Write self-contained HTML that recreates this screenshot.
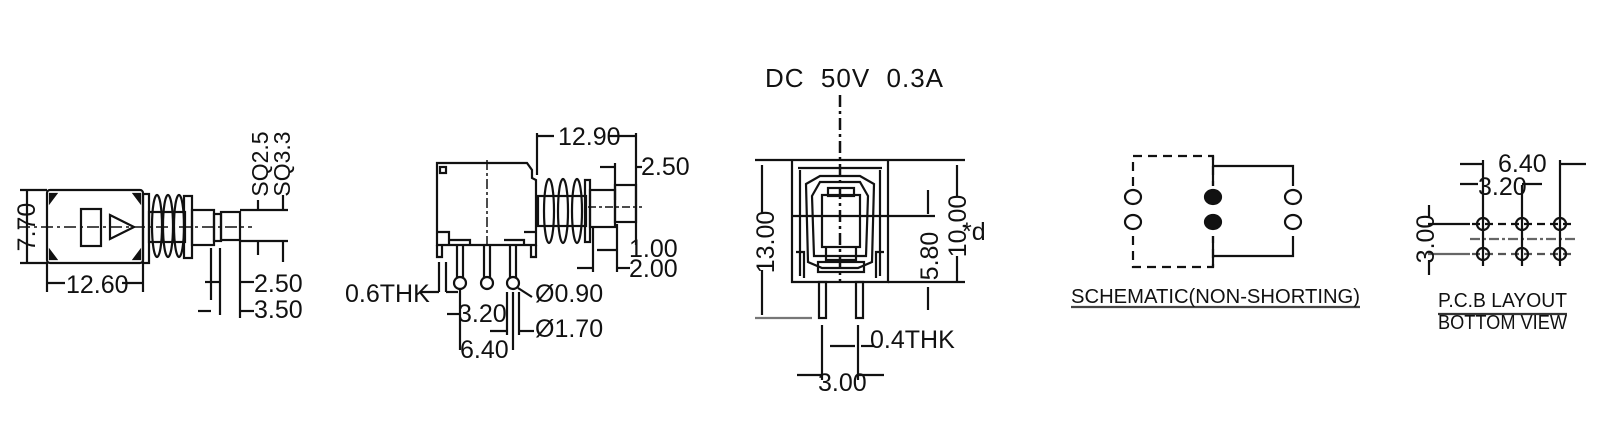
<!DOCTYPE html>
<html><head><meta charset="utf-8"><style>
html,body{margin:0;padding:0;background:#fff;}
svg{display:block;}
text{font-family:"Liberation Sans",sans-serif;fill:#111;}
</style></head><body>
<svg width="1606" height="437" viewBox="0 0 1606 437" xmlns="http://www.w3.org/2000/svg">
<g stroke="#111" stroke-width="2.2" fill="none">
<!-- ===== Section 1 ===== -->
<line x1="18" y1="227" x2="252" y2="227" stroke-dasharray="12,4,3,4" stroke-width="1.5"/>
<rect x="47" y="190" width="96" height="73" rx="3"/>
<path d="M50 194 l6 0 l-6 8 z M140 194 l-6 0 l6 8 z M50 259 l6 0 l-6 -8z M140 259 l-6 0 l6 -8z" fill="#111"/>
<rect x="81" y="209" width="20" height="37"/>
<path d="M110 215 L134 227 L110 239 Z"/>
<rect x="143" y="194" width="6" height="69"/>
<ellipse cx="157" cy="226" rx="5" ry="31"/>
<ellipse cx="168" cy="226" rx="5" ry="31"/>
<ellipse cx="179" cy="226" rx="5" ry="31"/>
<rect x="149" y="212" width="36" height="30"/>
<rect x="184" y="196" width="8" height="62"/>
<rect x="192" y="210" width="22" height="35"/>
<rect x="214" y="214" width="7" height="27"/>
<rect x="221" y="212" width="19" height="28"/>
<line x1="27" y1="190" x2="27" y2="263"/>
<line x1="20" y1="190" x2="47" y2="190"/><line x1="20" y1="263" x2="47" y2="263"/>
<line x1="47" y1="263" x2="47" y2="292"/><line x1="143" y1="263" x2="143" y2="292"/>
<line x1="47" y1="283" x2="65" y2="283"/><line x1="122" y1="283" x2="143" y2="283"/>
<line x1="240" y1="210" x2="288" y2="210"/><line x1="240" y1="241" x2="288" y2="241"/>
<line x1="258" y1="200" x2="258" y2="210"/><line x1="258" y1="241" x2="258" y2="255"/>
<line x1="283" y1="195" x2="283" y2="210"/><line x1="283" y1="241" x2="283" y2="262"/>
<line x1="211" y1="248" x2="211" y2="300"/><line x1="220" y1="248" x2="220" y2="315"/><line x1="240" y1="240" x2="240" y2="318"/>
<line x1="205" y1="282" x2="220" y2="282"/><line x1="240" y1="282" x2="254" y2="282"/>
<line x1="198" y1="311" x2="211" y2="311"/><line x1="240" y1="311" x2="254" y2="311"/>

<!-- ===== Section 2 ===== -->
<path d="M437 163 L527 163 L532 170 L532 178 L536 180 L536 245 L437 245 Z"/>
<rect x="440" y="167" width="6" height="6"/>
<line x1="487" y1="160" x2="487" y2="248" stroke-dasharray="10,3,3,3" stroke-width="1.5"/>
<path d="M437 232 L449 232 L449 245 M524 232 L536 232 M449 245 L449 240 L470 240 L470 245 M504 240 L524 240 L524 245"/>
<path d="M437 245 L437 257 L442 257 L442 245 M531 245 L531 257 L536 257 L536 245"/>
<line x1="457" y1="245" x2="457" y2="278"/><line x1="463" y1="245" x2="463" y2="278"/>
<line x1="484" y1="245" x2="484" y2="278"/><line x1="490" y1="245" x2="490" y2="278"/>
<line x1="510" y1="245" x2="510" y2="278"/><line x1="516" y1="245" x2="516" y2="278"/>
<circle cx="460" cy="283" r="6"/><circle cx="487" cy="283" r="6"/><circle cx="513" cy="283" r="6"/>
<ellipse cx="549" cy="211" rx="5" ry="32"/><ellipse cx="563" cy="211" rx="5" ry="32"/><ellipse cx="577" cy="211" rx="5" ry="32"/>
<rect x="538" y="196" width="48" height="30"/>
<rect x="585" y="180" width="5" height="62"/>
<rect x="590" y="190" width="25" height="37"/>
<rect x="615" y="185" width="21" height="37"/>
<line x1="588" y1="207" x2="642" y2="207" stroke-dasharray="8,3,3,3" stroke-width="1.5"/>
<line x1="537" y1="133" x2="537" y2="175"/><line x1="636" y1="133" x2="636" y2="245"/>
<line x1="537" y1="136" x2="554" y2="136"/><line x1="608" y1="136" x2="636" y2="136"/>
<line x1="615" y1="163" x2="615" y2="200"/><line x1="600" y1="167" x2="615" y2="167"/><line x1="636" y1="167" x2="642" y2="167"/>
<line x1="593" y1="228" x2="593" y2="272"/><line x1="617" y1="224" x2="617" y2="272"/>
<line x1="597" y1="250" x2="617" y2="250"/>
<line x1="577" y1="268" x2="593" y2="268"/><line x1="617" y1="268" x2="630" y2="268"/>
<line x1="439" y1="262" x2="439" y2="292"/><line x1="446" y1="262" x2="446" y2="292"/>
<line x1="420" y1="292" x2="439" y2="292"/><line x1="446" y1="292" x2="458" y2="292"/>
<line x1="460" y1="288" x2="460" y2="350"/><line x1="513" y1="292" x2="513" y2="350"/><line x1="507" y1="292" x2="507" y2="335"/><line x1="519" y1="292" x2="519" y2="335"/>
<line x1="447" y1="314" x2="460" y2="314"/><line x1="490" y1="331" x2="507" y2="331"/><line x1="519" y1="331" x2="534" y2="331"/>
<line x1="518" y1="288" x2="532" y2="297"/>

<!-- ===== Section 3 ===== -->
<line x1="840" y1="95" x2="840" y2="282" stroke-dasharray="12,4,3,4" stroke-width="2.5"/>
<line x1="755" y1="160" x2="965" y2="160"/>
<path d="M792 160 L792 282 L888 282 L888 160"/>
<path d="M798 168 L882 168 M800 170 L800 276 M880 170 L880 276"/>
<path d="M806 184 L820 176 L860 176 L874 184 L872 262 L858 268 L822 268 L808 262 Z"/>
<path d="M812 196 L820 182 L860 182 L868 196 L866 256 L814 256 Z"/>
<rect x="822" y="195" width="38" height="52"/>
<rect x="828" y="188" width="26" height="8"/>
<path d="M826 247 L826 260 L856 260 L856 247"/>
<rect x="818" y="262" width="46" height="10"/>
<path d="M796 252 L804 252 L804 278 M884 252 L876 252 L876 278"/>
<line x1="792" y1="216" x2="935" y2="216"/>
<rect x="819" y="282" width="7" height="36"/><rect x="856" y="282" width="7" height="36"/>
<line x1="755" y1="318" x2="812" y2="318" stroke="#777"/>
<line x1="762" y1="165" x2="762" y2="214"/><line x1="762" y1="270" x2="762" y2="315"/>
<line x1="957" y1="165" x2="957" y2="196"/><line x1="957" y1="256" x2="957" y2="282"/>
<line x1="888" y1="282" x2="965" y2="282"/>
<line x1="928" y1="190" x2="928" y2="214"/><line x1="928" y1="287" x2="928" y2="310"/>
<line x1="822" y1="325" x2="822" y2="380"/><line x1="858" y1="325" x2="858" y2="380"/>
<line x1="830" y1="346" x2="855" y2="346"/><line x1="861" y1="346" x2="874" y2="346"/>
<line x1="797" y1="375" x2="822" y2="375"/><line x1="858" y1="375" x2="884" y2="375"/>

<!-- ===== Section 4 ===== -->
<path d="M1133 186 L1133 156 L1213 156 L1213 186" stroke-dasharray="9,6"/>
<path d="M1133 236 L1133 267 L1213 267 L1213 236" stroke-dasharray="9,6"/>
<path d="M1213 166 L1293 166 L1293 186 M1213 256 L1293 256 L1293 236"/>
<line x1="1213" y1="156" x2="1213" y2="186"/><line x1="1213" y1="236" x2="1213" y2="267"/>
<ellipse cx="1133" cy="197" rx="8" ry="7"/><ellipse cx="1133" cy="222" rx="8" ry="7"/>
<ellipse cx="1293" cy="197" rx="8" ry="7"/><ellipse cx="1293" cy="222" rx="8" ry="7"/>
<ellipse cx="1213" cy="197" rx="8" ry="7" fill="#111"/><ellipse cx="1213" cy="222" rx="8" ry="7" fill="#111"/>
<line x1="1071" y1="307" x2="1360" y2="307" stroke="#444"/>

<!-- ===== Section 5 ===== -->
<line x1="1428" y1="224" x2="1470" y2="224"/><line x1="1428" y1="254" x2="1470" y2="254" stroke="#666"/>
<line x1="1472" y1="224" x2="1575" y2="224" stroke-dasharray="8,5"/><line x1="1472" y1="254" x2="1575" y2="254" stroke-dasharray="8,5" stroke="#555"/>
<line x1="1470" y1="239" x2="1578" y2="239" stroke-dasharray="10,3,3,3" stroke="#666"/>
<circle cx="1483" cy="224" r="6"/><circle cx="1522" cy="224" r="6"/><circle cx="1560" cy="224" r="6"/>
<circle cx="1483" cy="254" r="6"/><circle cx="1522" cy="254" r="6"/><circle cx="1560" cy="254" r="6"/>
<line x1="1483" y1="160" x2="1483" y2="266"/><line x1="1522" y1="185" x2="1522" y2="266"/><line x1="1560" y1="160" x2="1560" y2="266"/>
<line x1="1460" y1="164" x2="1483" y2="164"/><line x1="1560" y1="164" x2="1586" y2="164"/>
<line x1="1460" y1="184" x2="1478" y2="184"/><line x1="1522" y1="184" x2="1542" y2="184"/>
<line x1="1429" y1="205" x2="1429" y2="218"/><line x1="1429" y1="260" x2="1429" y2="275"/>
<line x1="1438" y1="314" x2="1567" y2="314" stroke="#333"/>
</g>
<g font-size="25">
<text transform="translate(35,227) rotate(-90)" text-anchor="middle">7.70</text>
<text x="66" y="293">12.60</text>
<text transform="translate(268,164) rotate(-90)" text-anchor="middle" font-size="23">SQ2.5</text>
<text transform="translate(290,164) rotate(-90)" text-anchor="middle" font-size="23">SQ3.3</text>
<text x="254" y="292">2.50</text>
<text x="254" y="318">3.50</text>
<text x="558" y="145">12.90</text>
<text x="641" y="175">2.50</text>
<text x="629" y="257">1.00</text>
<text x="629" y="277">2.00</text>
<text x="345" y="302">0.6THK</text>
<text x="535" y="302">Ø0.90</text>
<text x="458" y="322">3.20</text>
<text x="535" y="337">Ø1.70</text>
<text x="460" y="358">6.40</text>
<text x="765" y="87" font-size="26" xml:space="preserve" textLength="178" lengthAdjust="spacing">DC  50V  0.3A</text>
<text transform="translate(774,242) rotate(-90)" text-anchor="middle">13.00</text>
<text transform="translate(938,256) rotate(-90)" text-anchor="middle">5.80</text>
<text transform="translate(966,226) rotate(-90)" text-anchor="middle">10.00</text>
<text x="962" y="240">*d</text>
<text x="870" y="348">0.4THK</text>
<text x="818" y="391">3.00</text>
<text x="1071" y="303" font-size="20" textLength="289" lengthAdjust="spacingAndGlyphs">SCHEMATIC(NON-SHORTING)</text>
<text x="1498" y="172">6.40</text>
<text x="1478" y="195">3.20</text>
<text transform="translate(1434,239) rotate(-90)" text-anchor="middle">3.00</text>
<text x="1438" y="307" font-size="20" textLength="129" lengthAdjust="spacingAndGlyphs">P.C.B LAYOUT</text>
<text x="1438" y="329" font-size="20" textLength="129" lengthAdjust="spacingAndGlyphs">BOTTOM VIEW</text>
</g>
</svg>
</body></html>
